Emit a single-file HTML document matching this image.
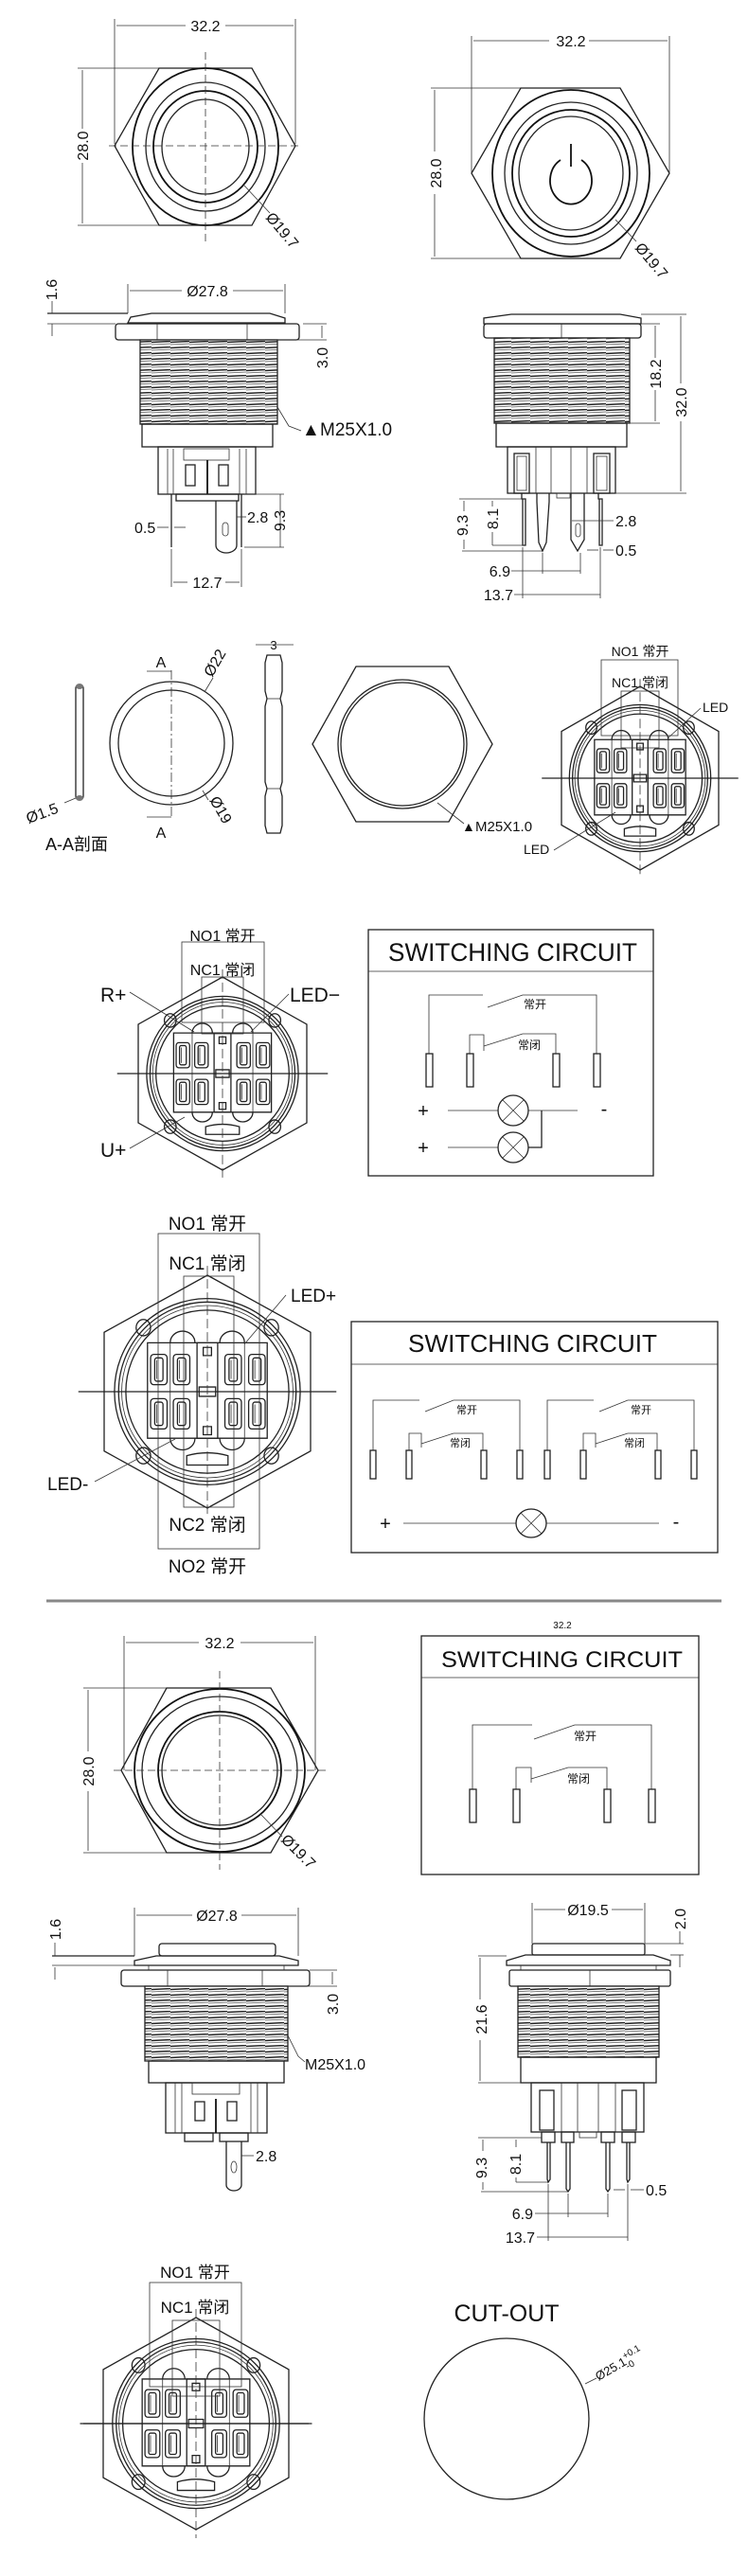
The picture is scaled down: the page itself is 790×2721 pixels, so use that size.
<!DOCTYPE html>
<html><head><meta charset="utf-8"><style>
html,body{margin:0;padding:0;background:#fff;}
svg{display:block;}
text{font-family:"Liberation Sans","Noto Sans CJK SC",sans-serif;fill:#111;}
.d{font-size:16px;}
.s{fill:none;stroke:#222;stroke-width:1.3;}
.t{fill:none;stroke:#333;stroke-width:0.8;}
.b{fill:none;stroke:#111;stroke-width:1.8;}
</style></head><body>
<svg width="790" height="2721" viewBox="0 0 790 2721" xmlns="http://www.w3.org/2000/svg">
<defs>
<pattern id="th" width="20" height="6" patternUnits="userSpaceOnUse">
<rect width="20" height="6" fill="#fff"/>
<line x1="0" y1="1.5" x2="20" y2="0.5" stroke="#222" stroke-width="1.4"/>
<line x1="0" y1="4" x2="20" y2="3" stroke="#555" stroke-width="0.7"/>
</pattern>
<g id="slot"><rect x="-8" y="-13" width="16" height="26" rx="3" class="s" vector-effect="non-scaling-stroke"/><rect x="-4" y="-10" width="8" height="20" rx="2" class="s" vector-effect="non-scaling-stroke"/><line x1="-2" y1="-8" x2="-2" y2="8" class="t" vector-effect="non-scaling-stroke"/></g>
<g id="bv">
<polygon points="0,-100 100,-51 100,51 0,100 -100,51 -100,-51" class="s" vector-effect="non-scaling-stroke"/>
<ellipse rx="90" ry="80" class="s" vector-effect="non-scaling-stroke"/>
<ellipse rx="86" ry="77" class="s" vector-effect="non-scaling-stroke"/>
<ellipse rx="83" ry="74" class="t" vector-effect="non-scaling-stroke"/>
<ellipse rx="79" ry="70" class="s" vector-effect="non-scaling-stroke"/>
<rect x="-58" y="-42" width="116" height="82" class="s" vector-effect="non-scaling-stroke"/>
<rect x="-10" y="-42" width="20" height="82" class="s" vector-effect="non-scaling-stroke"/>
<rect x="-4" y="-38" width="8" height="7" class="s" vector-effect="non-scaling-stroke"/>
<rect x="-4" y="30" width="8" height="7" class="s" vector-effect="non-scaling-stroke"/>
<rect x="-8" y="-4" width="16" height="8" class="s" vector-effect="non-scaling-stroke"/>
<circle cx="-62" cy="-55" r="7" class="s" vector-effect="non-scaling-stroke"/>
<circle cx="62" cy="-55" r="7" class="s" vector-effect="non-scaling-stroke"/>
<circle cx="-62" cy="55" r="7" class="s" vector-effect="non-scaling-stroke"/>
<circle cx="62" cy="55" r="7" class="s" vector-effect="non-scaling-stroke"/>
<path d="M-36,-42 a12,10 0 0 1 24,0 M12,-42 a12,10 0 0 1 24,0 M-36,40 a12,10 0 0 0 24,0 M12,40 a12,10 0 0 0 24,0" class="s" vector-effect="non-scaling-stroke"/>
<path d="M-20,55 q20,-5 40,0 l0,8 l-40,0 z" class="s" vector-effect="non-scaling-stroke"/>
<use href="#slot" transform="translate(-47,-19)"/><use href="#slot" transform="translate(-25,-19)"/><use href="#slot" transform="translate(25,-19)"/><use href="#slot" transform="translate(48,-19)"/>
<use href="#slot" transform="translate(-47,19)"/><use href="#slot" transform="translate(-25,19)"/><use href="#slot" transform="translate(25,19)"/><use href="#slot" transform="translate(48,19)"/>
<line x1="-36" y1="-42" x2="-36" y2="40" class="t" vector-effect="non-scaling-stroke"/>
<line x1="36" y1="-42" x2="36" y2="40" class="t" vector-effect="non-scaling-stroke"/>
<line x1="-125" y1="0" x2="125" y2="0" class="s" vector-effect="non-scaling-stroke"/>
<line x1="0" y1="-108" x2="0" y2="108" class="t" stroke-dasharray="10 4" vector-effect="non-scaling-stroke"/>
</g>
</defs>

<!-- ===== SECTION 1: top views ===== -->
<g>
<line x1="121" y1="20" x2="121" y2="152" class="t"/><line x1="312" y1="20" x2="312" y2="152" class="t"/>
<line x1="123" y1="27" x2="196" y2="27" class="t"/><line x1="238" y1="27" x2="310" y2="27" class="t"/>
<text x="217" y="33" class="d" text-anchor="middle">32.2</text>
<line x1="82" y1="72" x2="176" y2="72" class="t"/><line x1="82" y1="238" x2="176" y2="238" class="t"/>
<line x1="87" y1="74" x2="87" y2="136" class="t"/><line x1="87" y1="172" x2="87" y2="236" class="t"/>
<text transform="translate(93,154) rotate(-90)" class="d" text-anchor="middle">28.0</text>
<polygon points="121,154 168,72 266,72 312,154 266,238 168,238" class="s"/>
<ellipse cx="217" cy="155" rx="77" ry="83" class="b"/>
<ellipse cx="217" cy="155" rx="63" ry="68" class="s"/>
<ellipse cx="217" cy="155" rx="55" ry="59" class="b"/>
<ellipse cx="217" cy="155" rx="46" ry="50" class="s"/>
<line x1="115" y1="154" x2="318" y2="154" class="t" stroke-dasharray="8 4"/>
<line x1="217" y1="55" x2="217" y2="255" class="t" stroke-dasharray="8 4"/>
<line x1="258" y1="196" x2="285" y2="225" class="t"/>
<text transform="translate(280,230) rotate(50)" class="d">Ø19.7</text>
</g>
<g>
<line x1="498" y1="38" x2="498" y2="182" class="t"/><line x1="707" y1="38" x2="707" y2="182" class="t"/>
<line x1="500" y1="43" x2="580" y2="43" class="t"/><line x1="622" y1="43" x2="705" y2="43" class="t"/>
<text x="603" y="49" class="d" text-anchor="middle">32.2</text>
<line x1="455" y1="93" x2="655" y2="93" class="t"/><line x1="455" y1="273" x2="655" y2="273" class="t"/>
<line x1="459" y1="95" x2="459" y2="160" class="t"/><line x1="459" y1="205" x2="459" y2="271" class="t"/>
<text transform="translate(466,183) rotate(-90)" class="d" text-anchor="middle">28.0</text>
<polygon points="498,183 550,93 655,93 707,183 655,273 550,273" class="s"/>
<ellipse cx="603" cy="183" rx="83" ry="88" class="b"/>
<ellipse cx="603" cy="183" rx="70" ry="75" class="s"/>
<ellipse cx="603" cy="183" rx="62" ry="67" class="b"/>
<ellipse cx="603" cy="183" rx="55" ry="60" class="s"/>
<path d="M592,169 A22,25 0 1 0 614,169" class="b" stroke-width="2.5"/>
<line x1="603" y1="152" x2="603" y2="176" class="b" stroke-width="3"/>
<line x1="650" y1="232" x2="672" y2="255" class="t"/>
<text transform="translate(670,262) rotate(50)" class="d">Ø19.7</text>
</g>

<!-- side left s1 -->
<g>
<line x1="135" y1="300" x2="135" y2="331" class="t"/><line x1="301" y1="300" x2="301" y2="331" class="t"/>
<line x1="137" y1="307" x2="192" y2="307" class="t"/><line x1="246" y1="307" x2="299" y2="307" class="t"/>
<text x="219" y="313" class="d" text-anchor="middle">Ø27.8</text>
<line x1="50" y1="331" x2="135" y2="331" class="s"/><line x1="50" y1="342" x2="122" y2="342" class="t"/>
<line x1="55" y1="318" x2="55" y2="331" class="t"/><line x1="55" y1="342" x2="55" y2="355" class="t"/>
<text transform="translate(60,306) rotate(-90)" class="d" text-anchor="middle">1.6</text>
<path d="M135,341 L138,335 L160,331 L285,331 L301,336 L301,341 Z" class="s"/>
<rect x="122" y="342" width="194" height="17" rx="3" class="s"/>
<line x1="166" y1="342" x2="166" y2="359" class="t"/><line x1="261" y1="342" x2="261" y2="359" class="t"/>
<rect x="148" y="359" width="145" height="89" class="s" style="fill:url(#th)"/>
<rect x="150" y="448" width="138" height="24" class="s"/>
<rect x="167" y="472" width="103" height="50" class="s"/>
<line x1="177" y1="474" x2="177" y2="522" class="t"/><line x1="183" y1="474" x2="183" y2="522" class="t"/>
<line x1="253" y1="474" x2="253" y2="522" class="t"/><line x1="260" y1="474" x2="260" y2="522" class="t"/>
<rect x="194" y="474" width="48" height="12" class="t"/>
<rect x="196" y="491" width="10" height="22" class="s"/><rect x="231" y="491" width="10" height="22" class="s"/>
<line x1="219" y1="486" x2="219" y2="522" class="b"/>
<rect x="186" y="522" width="66" height="7" class="s"/>
<line x1="181" y1="522" x2="181" y2="578" class="s"/>
<line x1="255" y1="522" x2="255" y2="578" class="s"/>
<path d="M228,529 L228,576 A11,8 0 0 0 250,576 L250,529" class="s"/>
<rect x="235" y="552" width="6" height="14" rx="3" class="t"/>
<line x1="320" y1="342" x2="345" y2="342" class="t"/><line x1="293" y1="359" x2="345" y2="359" class="t"/>
<line x1="340" y1="344" x2="340" y2="357" class="t"/>
<text transform="translate(346,378) rotate(-90)" class="d" text-anchor="middle">3.0</text>
<path d="M293,430 L305,450 L318,455" class="t"/>
<text x="319" y="460" font-size="19" fill="#111">▲</text><text x="338" y="460" font-size="19">M25X1.0</text>
<line x1="250" y1="546" x2="260" y2="546" class="t"/><text x="261" y="552" class="d">2.8</text>
<line x1="258" y1="522" x2="300" y2="522" class="t"/><line x1="258" y1="578" x2="300" y2="578" class="t"/>
<line x1="296" y1="522" x2="296" y2="578" class="t"/>
<text transform="translate(301,550) rotate(-90)" class="d" text-anchor="middle">9.3</text>
<text x="142" y="563" class="d">0.5</text><line x1="166" y1="557" x2="178" y2="557" class="t"/><line x1="184" y1="557" x2="196" y2="557" class="t"/>
<line x1="181" y1="580" x2="181" y2="620" class="t"/><line x1="255" y1="580" x2="255" y2="620" class="t"/>
<line x1="183" y1="615" x2="198" y2="615" class="t"/><line x1="238" y1="615" x2="253" y2="615" class="t"/>
<text x="219" y="621" class="d" text-anchor="middle">12.7</text>
</g>

<!-- side right s1 -->
<g>
<path d="M511,342 L511,336 L540,332 L655,332 L677,336 L677,342 Z" class="s"/>
<rect x="511" y="342" width="166" height="15" rx="3" class="s"/>
<line x1="593" y1="342" x2="593" y2="357" class="t"/>
<rect x="522" y="357" width="143" height="90" class="s" style="fill:url(#th)"/>
<line x1="593" y1="447" x2="665" y2="447" class="t"/>
<rect x="524" y="447" width="138" height="25" class="s"/>
<rect x="536" y="472" width="114" height="49" class="s"/>
<rect x="543" y="479" width="16" height="42" class="s"/><rect x="546" y="482" width="10" height="36" class="t"/>
<rect x="627" y="479" width="17" height="42" class="s"/><rect x="630" y="482" width="11" height="36" class="t"/>
<line x1="566" y1="472" x2="566" y2="521" class="t"/><line x1="582" y1="472" x2="582" y2="521" class="t"/>
<line x1="603" y1="472" x2="603" y2="521" class="t"/><line x1="620" y1="472" x2="620" y2="521" class="t"/>
<rect x="588" y="521" width="14" height="5" class="t"/>
<path d="M551,521 L551,527 L555,527 L555,576 L552,576 L552,527 M551,527" class="s"/>
<path d="M567,521 L567,530 L569,573 L573,582 L577,573 L580,530 L580,521" class="s"/>
<path d="M603,521 L603,570 L610,582 L617,570 L617,521" class="s"/>
<rect x="608" y="553" width="5" height="14" rx="2.5" class="t"/>
<path d="M632,521 L632,527 L636,527 L636,576 L633,576 L633,527" class="s"/>
<line x1="677" y1="332" x2="725" y2="332" class="t"/><line x1="650" y1="521" x2="725" y2="521" class="t"/>
<line x1="719" y1="334" x2="719" y2="405" class="t"/><line x1="719" y1="445" x2="719" y2="519" class="t"/>
<text transform="translate(725,425) rotate(-90)" class="d" text-anchor="middle">32.0</text>
<line x1="677" y1="342" x2="697" y2="342" class="t"/><line x1="665" y1="447" x2="697" y2="447" class="t"/>
<line x1="692" y1="344" x2="692" y2="378" class="t"/><line x1="692" y1="412" x2="692" y2="445" class="t"/>
<text transform="translate(698,395) rotate(-90)" class="d" text-anchor="middle">18.2</text>
<line x1="485" y1="527" x2="551" y2="527" class="t"/><line x1="488" y1="582" x2="573" y2="582" class="t"/>
<line x1="490" y1="529" x2="490" y2="540" class="t"/><line x1="490" y1="570" x2="490" y2="580" class="t"/>
<text transform="translate(494,555) rotate(-90)" class="d" text-anchor="middle">9.3</text>
<line x1="520" y1="529" x2="520" y2="535" class="t"/><line x1="520" y1="562" x2="520" y2="576" class="t"/><line x1="520" y1="576" x2="553" y2="576" class="t"/>
<text transform="translate(526,548) rotate(-90)" class="d" text-anchor="middle">8.1</text>
<line x1="604" y1="550" x2="648" y2="550" class="t"/><text x="650" y="556" class="d">2.8</text>
<line x1="620" y1="581" x2="632" y2="581" class="t"/><line x1="637" y1="581" x2="648" y2="581" class="t"/><text x="650" y="587" class="d">0.5</text>
<line x1="573" y1="584" x2="573" y2="606" class="t"/><line x1="613" y1="584" x2="613" y2="606" class="t"/>
<line x1="540" y1="603" x2="613" y2="603" class="t"/><text x="539" y="609" class="d" text-anchor="end">6.9</text>
<line x1="552" y1="578" x2="552" y2="632" class="t"/><line x1="634" y1="578" x2="634" y2="632" class="t"/>
<line x1="543" y1="628" x2="634" y2="628" class="t"/><text x="542" y="634" class="d" text-anchor="end">13.7</text>
</g>

<!-- ===== SECTION 2 ===== -->
<g>
<rect x="80" y="723" width="8" height="122" rx="4" class="s"/>
<ellipse cx="84" cy="725" rx="4" ry="3" fill="#777"/><ellipse cx="84" cy="843" rx="4" ry="3" fill="#777"/>
<line x1="68" y1="848" x2="80" y2="843" class="t"/>
<text transform="translate(30,870) rotate(-20)" class="d">Ø1.5</text>
<text x="48" y="898" font-size="18">A-A剖面</text>
<circle cx="181" cy="785" r="65" class="s"/><circle cx="181" cy="785" r="56" class="s"/>
<line x1="181" y1="708" x2="181" y2="863" class="t" stroke-dasharray="10 3 2 3"/>
<path d="M155,709 L181,709 M155,863 L181,863" class="t"/>
<text x="170" y="705" class="d" text-anchor="middle">A</text><text x="170" y="885" class="d" text-anchor="middle">A</text>
<line x1="216" y1="731" x2="225" y2="716" class="t"/>
<text transform="translate(224,716) rotate(-60)" class="d">Ø22</text>
<line x1="214" y1="835" x2="220" y2="845" class="t"/>
<text transform="translate(221,845) rotate(60)" class="d">Ø19</text>
<line x1="270" y1="681" x2="310" y2="681" class="t"/>
<text x="289" y="686" font-size="13" text-anchor="middle">3</text>
<path d="M282,692 L296,692 L298,700 L298,730 L296,738 L298,746 L298,826 L296,833 L298,841 L298,872 L296,880 L282,880 L280,872 L280,841 L282,833 L280,826 L280,746 L282,738 L280,730 L280,700 Z" class="s"/>
<line x1="282" y1="738" x2="296" y2="738" class="t"/><line x1="282" y1="833" x2="296" y2="833" class="t"/>
<polygon points="330,786 376,704 474,704 520,786 474,868 376,868" class="s"/>
<circle cx="425" cy="786" r="68" class="s"/><circle cx="425" cy="786" r="65" class="s"/>
<line x1="462" y1="848" x2="490" y2="870" class="t"/>
<text x="488" y="878" font-size="14">▲</text><text x="502" y="878" font-size="15">M25X1.0</text>
</g>
<g>
<use href="#bv" transform="translate(676,822) scale(0.83,0.97)"/>
<rect x="635" y="697" width="81" height="80" class="t" stroke="#333"/>
<rect x="656" y="730" width="40" height="60" class="t"/>
<text x="676" y="693" font-size="14" text-anchor="middle">NO1 常开</text>
<text x="676" y="726" font-size="14" text-anchor="middle">NC1 常闭</text>
<text x="742" y="752" font-size="14">LED</text><line x1="740" y1="748" x2="705" y2="780" class="t"/>
<text x="553" y="902" font-size="14">LED</text><line x1="585" y1="898" x2="650" y2="858" class="t"/>
</g>

<!-- ===== SECTION 3 ===== -->
<g>
<use href="#bv" transform="translate(235,1134) scale(0.89,1.02)"/>
<rect x="192" y="995" width="87" height="85" class="t"/>
<rect x="213" y="1032" width="44" height="60" class="t"/>
<text x="235" y="994" font-size="16" text-anchor="middle">NO1 常开</text>
<text x="235" y="1030" font-size="16" text-anchor="middle">NC1 常闭</text>
<text x="106" y="1058" font-size="21">R+</text><line x1="137" y1="1048" x2="205" y2="1090" class="t"/>
<text x="306" y="1058" font-size="21">LED−</text><line x1="305" y1="1050" x2="265" y2="1090" class="t"/>
<text x="106" y="1222" font-size="21">U+</text><line x1="137" y1="1213" x2="195" y2="1180" class="t"/>
</g>
<g>
<rect x="389" y="982" width="301" height="260" class="s"/>
<line x1="389" y1="1026" x2="690" y2="1026" class="t"/>
<text x="410" y="1015" font-size="27" textLength="263" lengthAdjust="spacingAndGlyphs">SWITCHING CIRCUIT</text>
<path d="M453,1113 L453,1051 L510,1051 M515,1064 L552,1051 L630,1051 L630,1113" class="t"/>
<path d="M496,1113 L496,1093 L511,1093 L511,1110 M511,1105 L552,1092 L587,1092 L587,1113" class="t"/>
<text x="553" y="1065" font-size="12">常开</text><text x="547" y="1108" font-size="12">常闭</text>
<rect x="450" y="1113" width="7" height="35" class="s"/><rect x="493" y="1113" width="7" height="35" class="s"/>
<rect x="584" y="1113" width="7" height="35" class="s"/><rect x="627" y="1113" width="7" height="35" class="s"/>
<text x="447" y="1180" font-size="20" text-anchor="middle">+</text><text x="447" y="1219" font-size="20" text-anchor="middle">+</text>
<text x="638" y="1178" font-size="20" text-anchor="middle">-</text>
<line x1="473" y1="1173" x2="526" y2="1173" class="t"/><line x1="558" y1="1173" x2="610" y2="1173" class="t"/>
<line x1="473" y1="1212" x2="526" y2="1212" class="t"/><path d="M558,1212 L572,1212 L572,1173" class="s"/>
<circle cx="542" cy="1173" r="16" class="s"/><path d="M531,1162 L553,1184 M553,1162 L531,1184" class="t"/>
<circle cx="542" cy="1212" r="16" class="s"/><path d="M531,1201 L553,1223 M553,1201 L531,1223" class="t"/>
</g>

<!-- ===== SECTION 4 ===== -->
<g>
<use href="#bv" transform="translate(219,1470) scale(1.09,1.23)"/>
<rect x="167" y="1303" width="107" height="333" class="t"/>
<rect x="194" y="1348" width="53" height="244" class="t"/>
<text x="219" y="1299" font-size="19" text-anchor="middle">NO1 常开</text>
<text x="219" y="1341" font-size="19" text-anchor="middle">NC1 常闭</text>
<text x="219" y="1617" font-size="19" text-anchor="middle">NC2 常闭</text>
<text x="219" y="1661" font-size="19" text-anchor="middle">NO2 常开</text>
<text x="307" y="1375" font-size="19">LED+</text><line x1="302" y1="1368" x2="258" y2="1420" class="t"/>
<text x="50" y="1574" font-size="19">LED-</text><line x1="100" y1="1565" x2="185" y2="1520" class="t"/>
</g>
<g>
<rect x="371" y="1396" width="387" height="244" class="s"/>
<line x1="371" y1="1441" x2="758" y2="1441" class="t"/>
<text x="431" y="1428" font-size="26" textLength="263" lengthAdjust="spacingAndGlyphs">SWITCHING CIRCUIT</text>
<g id="c2">
<path d="M394,1532 L394,1479 L443,1479 M449,1491 L479,1479 L549,1479 L549,1532" class="t"/>
<path d="M432,1532 L432,1514 L445,1514 L445,1529 M445,1525 L479,1514 L510,1514 L510,1532" class="t"/>
<text x="482" y="1493" font-size="11">常开</text><text x="475" y="1528" font-size="11">常闭</text>
<rect x="391" y="1532" width="6" height="30" class="s"/><rect x="429" y="1532" width="6" height="30" class="s"/>
<rect x="508" y="1532" width="6" height="30" class="s"/><rect x="546" y="1532" width="6" height="30" class="s"/>
</g>
<use href="#c2" transform="translate(184,0)"/>
<text x="407" y="1616" font-size="20" text-anchor="middle">+</text><text x="714" y="1614" font-size="20" text-anchor="middle">-</text>
<line x1="426" y1="1609" x2="545" y2="1609" class="t"/><line x1="577" y1="1609" x2="696" y2="1609" class="t"/>
<ellipse cx="561" cy="1609" rx="16" ry="15" class="s"/><path d="M550,1598 L572,1620 M572,1598 L550,1620" class="t"/>
</g>

<!-- separator -->
<line x1="49" y1="1691" x2="762" y2="1691" stroke="#888" stroke-width="3"/>

<!-- ===== SECTION 5 ===== -->
<g>
<line x1="131" y1="1728" x2="131" y2="1870" class="t"/><line x1="333" y1="1728" x2="333" y2="1870" class="t"/>
<line x1="133" y1="1735" x2="210" y2="1735" class="t"/><line x1="254" y1="1735" x2="331" y2="1735" class="t"/>
<text x="232" y="1741" class="d" text-anchor="middle">32.2</text>
<line x1="88" y1="1783" x2="180" y2="1783" class="t"/><line x1="88" y1="1957" x2="180" y2="1957" class="t"/>
<line x1="93" y1="1785" x2="93" y2="1850" class="t"/><line x1="93" y1="1892" x2="93" y2="1955" class="t"/>
<text transform="translate(99,1871) rotate(-90)" class="d" text-anchor="middle">28.0</text>
<polygon points="128,1870 176,1783 286,1783 336,1870 286,1957 176,1957" class="s"/>
<ellipse cx="232" cy="1870" rx="90" ry="86" class="b"/>
<ellipse cx="232" cy="1870" rx="82" ry="78" class="s"/>
<ellipse cx="232" cy="1870" rx="65" ry="62" class="b"/>
<ellipse cx="232" cy="1870" rx="61" ry="58" class="s"/>
<line x1="120" y1="1870" x2="345" y2="1870" class="t" stroke-dasharray="8 4"/>
<line x1="232" y1="1765" x2="232" y2="1975" class="t" stroke-dasharray="8 4"/>
<line x1="275" y1="1916" x2="298" y2="1940" class="t"/>
<text transform="translate(296,1944) rotate(45)" class="d">Ø19.7</text>
</g>
<g>
<text x="594" y="1720" font-size="10" text-anchor="middle" fill="#999">32.2</text>
<rect x="445" y="1728" width="293" height="252" class="s"/>
<line x1="445" y1="1772" x2="738" y2="1772" class="t"/>
<text x="466" y="1761" font-size="24" textLength="255" lengthAdjust="spacingAndGlyphs">SWITCHING CIRCUIT</text>
<path d="M499,1890 L499,1822 L562,1822 M564,1837 L607,1822 L688,1822 L688,1890" class="t"/>
<path d="M545,1890 L545,1867 L561,1867 L561,1883 M561,1879 L600,1867 L641,1867 L641,1890" class="t"/>
<text x="606" y="1838" font-size="12">常开</text><text x="599" y="1883" font-size="12">常闭</text>
<rect x="496" y="1890" width="7" height="35" class="s"/><rect x="542" y="1890" width="7" height="35" class="s"/>
<rect x="638" y="1890" width="7" height="35" class="s"/><rect x="685" y="1890" width="7" height="35" class="s"/>
</g>

<!-- side left s5 -->
<g>
<line x1="142" y1="2015" x2="142" y2="2066" class="t"/><line x1="315" y1="2015" x2="315" y2="2066" class="t"/>
<line x1="144" y1="2023" x2="203" y2="2023" class="t"/><line x1="255" y1="2023" x2="313" y2="2023" class="t"/>
<text x="229" y="2029" class="d" text-anchor="middle">Ø27.8</text>
<line x1="55" y1="2066" x2="142" y2="2066" class="s"/><line x1="55" y1="2076" x2="142" y2="2076" class="t"/>
<line x1="58" y1="2052" x2="58" y2="2066" class="t"/><line x1="58" y1="2078" x2="58" y2="2091" class="t"/>
<text transform="translate(64,2038) rotate(-90)" class="d" text-anchor="middle">1.6</text>
<rect x="168" y="2053" width="123" height="13" rx="3" class="s"/>
<path d="M142,2076 L142,2071 L165,2066 L295,2066 L315,2071 L315,2076 Z" class="s"/>
<line x1="157" y1="2076" x2="157" y2="2081" class="t"/><line x1="300" y1="2076" x2="300" y2="2081" class="t"/>
<rect x="128" y="2081" width="199" height="17" rx="3" class="s"/>
<line x1="177" y1="2081" x2="177" y2="2098" class="t"/><line x1="277" y1="2081" x2="277" y2="2098" class="t"/>
<rect x="153" y="2098" width="151" height="79" class="s" style="fill:url(#th)"/>
<rect x="157" y="2177" width="143" height="23" class="s"/>
<rect x="175" y="2200" width="107" height="53" class="s"/>
<line x1="185" y1="2200" x2="185" y2="2253" class="t"/><line x1="192" y1="2200" x2="192" y2="2253" class="t"/>
<line x1="265" y1="2200" x2="265" y2="2253" class="t"/><line x1="272" y1="2200" x2="272" y2="2253" class="t"/>
<rect x="203" y="2200" width="50" height="12" class="t"/>
<rect x="206" y="2220" width="10" height="20" class="s"/><rect x="240" y="2220" width="10" height="20" class="s"/>
<line x1="228" y1="2217" x2="228" y2="2253" class="b"/>
<rect x="195" y="2253" width="30" height="9" class="s"/><rect x="232" y="2253" width="30" height="9" class="s"/>
<path d="M239,2262 L239,2308 A8,6 0 0 0 255,2308 L255,2262" class="s"/>
<ellipse cx="247" cy="2289" rx="3" ry="6" class="t"/>
<line x1="255" y1="2277" x2="268" y2="2277" class="t"/><text x="270" y="2283" class="d">2.8</text>
<line x1="327" y1="2081" x2="356" y2="2081" class="t"/><line x1="304" y1="2098" x2="356" y2="2098" class="t"/>
<line x1="351" y1="2083" x2="351" y2="2096" class="t"/>
<text transform="translate(357,2117) rotate(-90)" class="d" text-anchor="middle">3.0</text>
<path d="M304,2150 L315,2172 L322,2178" class="t"/>
<text x="322" y="2186" class="d">M25X1.0</text>
</g>

<!-- side right s5 -->
<g>
<line x1="562" y1="2010" x2="562" y2="2053" class="t"/><line x1="681" y1="2010" x2="681" y2="2053" class="t"/>
<line x1="564" y1="2017" x2="597" y2="2017" class="t"/><line x1="646" y1="2017" x2="679" y2="2017" class="t"/>
<text x="621" y="2023" class="d" text-anchor="middle">Ø19.5</text>
<line x1="681" y1="2053" x2="722" y2="2053" class="t"/><line x1="708" y1="2065" x2="722" y2="2065" class="t"/>
<line x1="718" y1="2040" x2="718" y2="2053" class="t"/><line x1="718" y1="2065" x2="718" y2="2078" class="t"/>
<text transform="translate(724,2027) rotate(-90)" class="d" text-anchor="middle">2.0</text>
<rect x="562" y="2053" width="119" height="12" rx="2" class="s"/>
<path d="M535,2076 L535,2071 L555,2065 L690,2065 L708,2071 L708,2076 Z" class="s"/>
<line x1="550" y1="2076" x2="550" y2="2081" class="t"/><line x1="693" y1="2076" x2="693" y2="2081" class="t"/>
<rect x="538" y="2081" width="170" height="17" rx="2" class="s"/>
<line x1="623" y1="2081" x2="623" y2="2098" class="t"/>
<rect x="547" y="2098" width="149" height="75" class="s" style="fill:url(#th)"/>
<rect x="550" y="2173" width="143" height="27" class="s"/>
<rect x="561" y="2200" width="119" height="52" class="s"/>
<rect x="570" y="2208" width="15" height="42" class="s"/><rect x="657" y="2208" width="15" height="42" class="s"/>
<line x1="593" y1="2200" x2="593" y2="2252" class="t"/><line x1="610" y1="2200" x2="610" y2="2252" class="t"/>
<line x1="632" y1="2200" x2="632" y2="2252" class="t"/><line x1="650" y1="2200" x2="650" y2="2252" class="t"/>
<rect x="572" y="2252" width="14" height="11" class="s"/><rect x="593" y="2252" width="13" height="11" class="s"/>
<rect x="612" y="2252" width="18" height="6" class="t"/>
<rect x="635" y="2252" width="14" height="11" class="s"/><rect x="657" y="2252" width="14" height="11" class="s"/>
<path d="M578,2263 L578,2302 L579,2305 L581,2302 L581,2263" class="s"/>
<path d="M598,2263 L598,2312 L600,2315 L602,2312 L602,2263" class="s"/>
<path d="M640,2263 L640,2312 L642,2315 L644,2312 L644,2263" class="s"/>
<path d="M662,2263 L662,2302 L663,2305 L665,2302 L665,2263" class="s"/>
<line x1="505" y1="2066" x2="535" y2="2066" class="t"/><line x1="505" y1="2200" x2="550" y2="2200" class="t"/>
<line x1="507" y1="2068" x2="507" y2="2112" class="t"/><line x1="507" y1="2155" x2="507" y2="2198" class="t"/>
<text transform="translate(514,2133) rotate(-90)" class="d" text-anchor="middle">21.6</text>
<line x1="505" y1="2258" x2="572" y2="2258" class="t"/><line x1="508" y1="2315" x2="600" y2="2315" class="t"/>
<line x1="510" y1="2260" x2="510" y2="2272" class="t"/><line x1="510" y1="2305" x2="510" y2="2313" class="t"/>
<text transform="translate(514,2290) rotate(-90)" class="d" text-anchor="middle">9.3</text>
<line x1="545" y1="2260" x2="545" y2="2268" class="t"/><line x1="545" y1="2300" x2="545" y2="2305" class="t"/><line x1="545" y1="2305" x2="579" y2="2305" class="t"/>
<text transform="translate(550,2286) rotate(-90)" class="d" text-anchor="middle">8.1</text>
<line x1="648" y1="2313" x2="660" y2="2313" class="t"/><line x1="666" y1="2313" x2="680" y2="2313" class="t"/><text x="682" y="2319" class="d">0.5</text>
<line x1="600" y1="2317" x2="600" y2="2342" class="t"/><line x1="642" y1="2317" x2="642" y2="2342" class="t"/>
<line x1="565" y1="2338" x2="642" y2="2338" class="t"/><text x="563" y="2344" class="d" text-anchor="end">6.9</text>
<line x1="579" y1="2307" x2="579" y2="2367" class="t"/><line x1="663" y1="2307" x2="663" y2="2367" class="t"/>
<line x1="567" y1="2363" x2="663" y2="2363" class="t"/><text x="565" y="2369" class="d" text-anchor="end">13.7</text>
</g>

<!-- back view s5 -->
<g>
<use href="#bv" transform="translate(207,2560) scale(0.98,1.12)"/>
<line x1="88" y1="2560" x2="326" y2="2560" class="s"/>
<rect x="158" y="2411" width="97" height="110" class="t"/>
<rect x="182" y="2451" width="50" height="80" class="t"/>
<text x="206" y="2406" font-size="17" text-anchor="middle">NO1 常开</text>
<text x="206" y="2443" font-size="17" text-anchor="middle">NC1 常闭</text>
</g>
<!-- cut-out -->
<g>
<text x="535" y="2452" font-size="25" text-anchor="middle">CUT-OUT</text>
<ellipse cx="535" cy="2555" rx="87" ry="85" class="s"/>
<line x1="618" y1="2518" x2="630" y2="2512" class="t"/>
<text transform="translate(632,2515) rotate(-30)" font-size="13">Ø25.1<tspan font-size="10" dy="-6">+0.1</tspan><tspan font-size="10" dx="-22" dy="11">-0</tspan></text>
</g>
</svg>
</body></html>
